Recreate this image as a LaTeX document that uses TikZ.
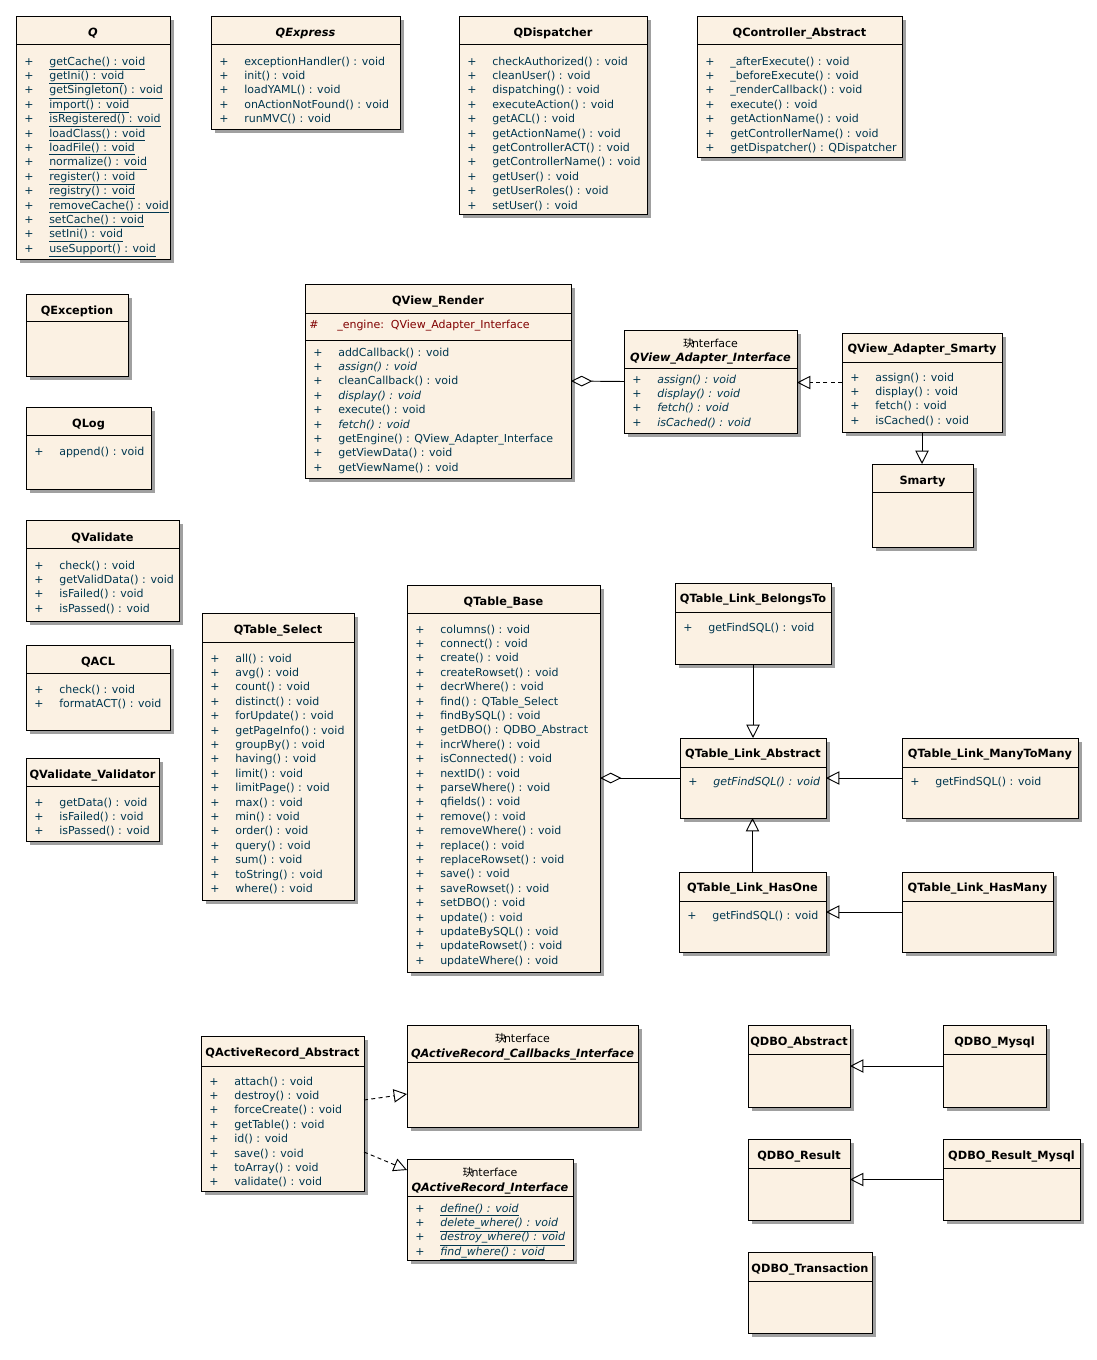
\documentclass[tikz,border=0pt]{standalone}
\usepackage{fontspec}
\setmainfont{DejaVu Sans}
\newfontfamily\cjkfont{Noto Sans CJK SC}
\usetikzlibrary{arrows.meta,calc}

\definecolor{boxfill}{RGB}{251,241,227}
\definecolor{shadowc}{RGB}{160,160,160}
\definecolor{memc}{RGB}{0,55,80}
\definecolor{attrc}{RGB}{128,0,0}

\tikzset{
  classbox/.style={draw=black, line width=0.75pt, fill=boxfill, inner sep=0pt, outer sep=0pt, anchor=north west},
  sepline/.style={draw=black, line width=0.7pt},
  mem/.style={anchor=base west, inner sep=0pt, font=\fontsize{8.25}{10}\selectfont, text=memc},
  attr/.style={mem, text=attrc},
  ctitle/.style={anchor=base, inner sep=0pt, font=\fontsize{8.5}{10}\selectfont\bfseries, text=black},
  atitle/.style={ctitle, font=\fontsize{8.5}{10}\selectfont\bfseries\itshape},
  stereo/.style={anchor=base, inner sep=0pt, font=\fontsize{8.25}{10}\selectfont, text=black},
  link/.style={line width=0.7pt, draw=black},
  inherit/.style={link, -{Triangle[open, length=10pt, width=10pt]}},
  realize/.style={inherit, dash pattern=on 3pt off 2.5pt},
  aggregate/.style={link, -{Diamond[open, length=16pt, width=8pt]}},
}

% class frame: name, x1, y1, x2, y2, y of the header separator
\newcommand\umlclass[6]{%
  \fill[shadowc] (#2+4,#3+4) rectangle (#4+4,#5+4);
  \node[classbox, minimum width={(#4-#2)*0.75pt}, minimum height={(#5-#3)*0.75pt}] (#1) at (#2,#3) {};
  \draw[sepline] (#2,#6) -- (#4,#6);
}
% class name: node, offset of baseline from the top, style, text
\newcommand\umltitle[4]{%
  \path (#1.north) ++(0,#2) node[#3] (#1-title) {#4};
}
% interface stereotype: node, offset of baseline from the top
\newcommand\umlstereo[2]{%
  \path (#1.north) ++(0,#2) node[stereo] (#1-stereo) {{\cjkfont 玦}\kern-1.5pt nterface};
}
% operations: node, box left x, first row centre y, format, list
\newcommand\plainf[1]{#1}
\newcommand\ulf[1]{\underline{#1}}
\newcommand\itf[1]{\textit{#1}}
\newcommand\itulf[1]{\underline{\textit{#1}}}
\newcommand\members[5]{%
  \foreach \t [count=\i from 0] in {#5} {
    \node[mem] (#1-p\i) at (#2+8, #3+\i*14.4+4) {+};
    \node[mem] (#1-m\i) at (#2+33, #3+\i*14.4+4) {#4{\t}};
  }%
}

\begin{document}
\begin{tikzpicture}[x=0.75pt, y=-0.75pt]
\fill[white] (0,0) rectangle (1096,1360);
\useasboundingbox (0,0) rectangle (1096,1360);

% ---------- top row ----------
\umlclass{q}{16}{16}{170}{259}{44}
\umltitle{q}{20}{atitle}{Q}
\members{q}{16}{61}{\ulf}{getCache() : void, getIni() : void, getSingleton() : void, import() : void, isRegistered() : void, loadClass() : void, loadFile() : void, normalize() : void, register() : void, registry() : void, removeCache() : void, setCache() : void, setIni() : void, useSupport() : void}

\umlclass{qexpress}{211}{16}{400}{129}{44}
\umltitle{qexpress}{20}{atitle}{QExpress}
\members{qexpress}{211}{61}{\plainf}{exceptionHandler() : void, init() : void, loadYAML() : void, onActionNotFound() : void, runMVC() : void}

\umlclass{qdispatcher}{459}{16}{647}{214}{44}
\umltitle{qdispatcher}{20}{ctitle}{QDispatcher}
\members{qdispatcher}{459}{61}{\plainf}{checkAuthorized() : void, cleanUser() : void, dispatching() : void, executeAction() : void, getACL() : void, getActionName() : void, getControllerACT() : void, getControllerName() : void, getUser() : void, getUserRoles() : void, setUser() : void}

\umlclass{qcontroller}{697}{16}{902}{157}{44}
\umltitle{qcontroller}{20}{ctitle}{QController\_Abstract}
\members{qcontroller}{697}{61}{\plainf}{\_afterExecute() : void, \_beforeExecute() : void, \_renderCallback() : void, execute() : void, getActionName() : void, getControllerName() : void, getDispatcher() : QDispatcher}

% ---------- left column ----------
\umlclass{qexception}{26}{294}{128}{376}{321}
\umltitle{qexception}{20}{ctitle}{QException}

\umlclass{qlog}{26}{407}{151}{489}{435}
\umltitle{qlog}{20}{ctitle}{QLog}
\members{qlog}{26}{451}{\plainf}{append() : void}

\umlclass{qvalidate}{26}{520}{179}{621}{548}
\umltitle{qvalidate}{21}{ctitle}{QValidate}
\members{qvalidate}{26}{565}{\plainf}{check() : void, getValidData() : void, isFailed() : void, isPassed() : void}

\umlclass{qacl}{26}{645}{170}{730}{673}
\umltitle{qacl}{20}{ctitle}{QACL}
\members{qacl}{26}{689}{\plainf}{check() : void, formatACT() : void}

\umlclass{qvvalidator}{26}{758}{159}{841}{786}
\umltitle{qvvalidator}{20}{ctitle}{QValidate\_Validator}
\members{qvvalidator}{26}{802}{\plainf}{getData() : void, isFailed() : void, isPassed() : void}

% ---------- view classes ----------
\umlclass{render}{305}{284}{571}{478}{313}
\umltitle{render}{20}{ctitle}{QView\_Render}
\node[attr] (render-a0) at (309,328) {\#};
\node[attr] (render-a1) at (337,328) {\_engine:\ \ QView\_Adapter\_Interface};
\draw[sepline] (305,340) -- (571,340);
\members{render}{305}{352}{\plainf}{addCallback() : void, \textit{assign() : void}, cleanCallback() : void, \textit{display() : void}, execute() : void, \textit{fetch() : void}, getEngine() : QView\_Adapter\_Interface, getViewData() : void, getViewName() : void}

\umlclass{vai}{624}{330}{797}{433}{368}
\umlstereo{vai}{17}
\umltitle{vai}{31}{atitle}{QView\_Adapter\_Interface}
\members{vai}{624}{379}{\itf}{assign() : void, display() : void, fetch() : void, isCached() : void}

\umlclass{vas}{842}{333}{1002}{432}{362}
\umltitle{vas}{19}{ctitle}{QView\_Adapter\_Smarty}
\members{vas}{842}{377}{\plainf}{assign() : void, display() : void, fetch() : void, isCached() : void}

\umlclass{smarty}{872}{464}{973}{547}{492}
\umltitle{smarty}{20}{ctitle}{Smarty}

% ---------- table classes ----------
\umlclass{tselect}{202}{613}{354}{900}{642}
\umltitle{tselect}{20}{ctitle}{QTable\_Select}
\members{tselect}{202}{658}{\plainf}{all() : void, avg() : void, count() : void, distinct() : void, forUpdate() : void, getPageInfo() : void, groupBy() : void, having() : void, limit() : void, limitPage() : void, max() : void, min() : void, order() : void, query() : void, sum() : void, toString() : void, where() : void}

\umlclass{tbase}{407}{585}{600}{972}{613}
\umltitle{tbase}{20}{ctitle}{QTable\_Base}
\members{tbase}{407}{629}{\plainf}{columns() : void, connect() : void, create() : void, createRowset() : void, decrWhere() : void, find() : QTable\_Select, findBySQL() : void, getDBO() : QDBO\_Abstract, incrWhere() : void, isConnected() : void, nextID() : void, parseWhere() : void, qfields() : void, remove() : void, removeWhere() : void, replace() : void, replaceRowset() : void, save() : void, saveRowset() : void, setDBO() : void, update() : void, updateBySQL() : void, updateRowset() : void, updateWhere() : void}

\umlclass{belongs}{675}{583}{831}{664}{612}
\umltitle{belongs}{19}{ctitle}{QTable\_Link\_BelongsTo}
\members{belongs}{675}{627}{\plainf}{getFindSQL() : void}

\umlclass{labs}{680}{738}{826}{818}{767}
\umltitle{labs}{19}{ctitle}{QTable\_Link\_Abstract}
\members{labs}{680}{781}{\itf}{getFindSQL() : void}

\umlclass{many}{902}{738}{1078}{818}{767}
\umltitle{many}{19}{ctitle}{QTable\_Link\_ManyToMany}
\members{many}{902}{781}{\plainf}{getFindSQL() : void}

\umlclass{hasone}{679}{872}{826}{952}{901}
\umltitle{hasone}{19}{ctitle}{QTable\_Link\_HasOne}
\members{hasone}{679}{915}{\plainf}{getFindSQL() : void}

\umlclass{hasmany}{902}{872}{1053}{952}{901}
\umltitle{hasmany}{19}{ctitle}{QTable\_Link\_HasMany}

% ---------- active record ----------
\umlclass{arabs}{201}{1036}{364}{1191}{1066}
\umltitle{arabs}{20}{ctitle}{QActiveRecord\_Abstract}
\members{arabs}{201}{1081}{\plainf}{attach() : void, destroy() : void, forceCreate() : void, getTable() : void, id() : void, save() : void, toArray() : void, validate() : void}

\umlclass{cbi}{407}{1025}{638}{1127}{1062}
\umlstereo{cbi}{17}
\umltitle{cbi}{32}{atitle}{QActiveRecord\_Callbacks\_Interface}

\umlclass{ari}{407}{1159}{573}{1260}{1196}
\umlstereo{ari}{17}
\umltitle{ari}{32}{atitle}{QActiveRecord\_Interface}
\members{ari}{407}{1208}{\itulf}{define() : void, delete\_where() : void, destroy\_where() : void, find\_where() : void}

% ---------- database classes ----------
\umlclass{dboabs}{748}{1025}{850}{1107}{1054}
\umltitle{dboabs}{20}{ctitle}{QDBO\_Abstract}

\umlclass{dbomysql}{943}{1025}{1046}{1107}{1054}
\umltitle{dbomysql}{20}{ctitle}{QDBO\_Mysql}

\umlclass{dboresult}{748}{1139}{850}{1220}{1168}
\umltitle{dboresult}{20}{ctitle}{QDBO\_Result}

\umlclass{dboresultmysql}{943}{1139}{1080}{1220}{1168}
\umltitle{dboresultmysql}{20}{ctitle}{QDBO\_Result\_Mysql}

\umlclass{dbotrans}{748}{1252}{872}{1333}{1281}
\umltitle{dbotrans}{20}{ctitle}{QDBO\_Transaction}

% ---------- relations ----------
\draw[aggregate] (vai.west) -- (render.east);
\draw[realize] (vas.west) -- (vas.west -| vai.east);
\draw[inherit] (vas.south) -- (vas.south |- smarty.north);
\draw[inherit] (belongs.south) -- (belongs.south |- labs.north);
\draw[aggregate] (labs.west) -- (labs.west -| tbase.east);
\draw[inherit] (many.west) -- (labs.east);
\draw[inherit] (hasone.north) -- (hasone.north |- labs.south);
\draw[inherit] (hasmany.west) -- (hasone.east);
\draw[realize] ($(arabs.north east)+(0,64)$) -- ($(cbi.north west)+(0,69)$);
\draw[realize] ($(arabs.north east)+(0,116)$) -- ($(ari.north west)+(0,11)$);
\draw[inherit] (dbomysql.west) -- (dboabs.east);
\draw[inherit] (dboresultmysql.west) -- (dboresult.east);
\end{tikzpicture}
\end{document}
